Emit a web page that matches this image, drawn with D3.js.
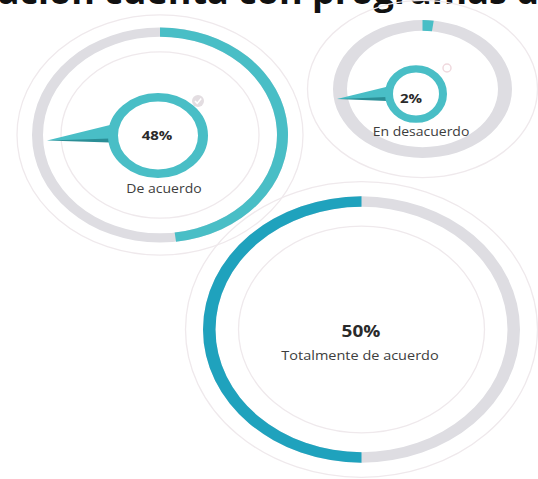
<!DOCTYPE html>
<html>
<head>
<meta charset="utf-8">
<script src="https://cdn.jsdelivr.net/npm/d3@7"></script>
<style>
  html, body { margin: 0; padding: 0; background: #ffffff; }
  svg { display: block; }
  text { font-family: "Open Sans", "Noto Sans", sans-serif; }
</style>
</head>
<body>
<svg id="chart" width="538" height="479"></svg>
<script>
// Survey answers and their shares (percent)
const categories = ["De acuerdo", "En desacuerdo", "Totalmente de acuerdo"];
const values = [48, 2, 50];
const valueLabels = ["48%", "2%", "50%"];
const titleLead = "Situación cuenta con ";
const titleTail = "programas de";

// Placement of each gauge (ellipse centre, ring radius, vertical squash, sweep direction)
const layout = [
  { cx: 160, cy: 135, r: 128, w: 11, ky: 0.84, dir: 1, faintIn: 99, faintOut: 143, color: "#49bec6",
    marker: { cx: 158, cy: 135.5, r: 50, w: 10, ky: 0.85, tip: 47 },
    badge: { x: 198, y: 101, r: 6, check: true },
    pct: { x: 157, y: 140, size: 15 }, lab: { x: 164, y: 193, size: 14 } },
  { cx: 422.5, cy: 89, r: 89.5, w: 14, ky: 0.77, dir: 1, faintIn: null, faintOut: 115, color: "#49bec6",
    marker: { cx: 416, cy: 94, r: 31, w: 8, ky: 0.93, tip: 337 },
    badge: { x: 447, y: 68, r: 4, check: false },
    pct: { x: 411, y: 103, size: 15 }, lab: { x: 421, y: 136, size: 14 } },
  { cx: 361.5, cy: 329.5, r: 158.5, w: 12.5, ky: 0.84, dir: -1, faintIn: 123, faintOut: 176, color: "#1fa2bd",
    marker: null, badge: null,
    pct: { x: 361, y: 337, size: 19 }, lab: { x: 360, y: 360, size: 14.5 } }
];

const svg = d3.select("#chart");
const angle = d3.scaleLinear().domain([0, 100]).range([0, 2 * Math.PI]);
const track = "#dedde2";
const faint = "#efe9ec";
const textSquash = 0.85;

// Title, running off the top edge; "programas" begins at x = 312
const titleSize = 36;
const probe = svg.append("text")
  .attr("font-size", titleSize).attr("font-weight", 700)
  .attr("xml:space", "preserve").style("white-space", "pre")
  .text(titleLead);
const leadWidth = probe.node().getComputedTextLength();
probe.remove();
svg.append("text")
  .attr("x", 312 - leadWidth).attr("y", 3.5)
  .attr("font-size", titleSize).attr("font-weight", 700)
  .attr("fill", "#111")
  .style("white-space", "pre")
  .text(titleLead + titleTail);

function label(x, y, size, weight, fill, str) {
  svg.append("text")
    .attr("transform", `translate(${x},${y}) scale(1,${textSquash})`)
    .attr("text-anchor", "middle")
    .attr("font-size", size).attr("font-weight", weight)
    .attr("fill", fill)
    .text(str);
}

categories.forEach((cat, i) => {
  const L = layout[i];
  const g = svg.append("g")
    .attr("transform", `translate(${L.cx},${L.cy}) scale(1,${L.ky})`);

  // faint guide circles
  [L.faintIn, L.faintOut].filter(r => r).forEach(r => {
    g.append("circle").attr("r", r)
      .attr("fill", "none").attr("stroke", faint)
      .attr("stroke-width", 1.3)
      .attr("vector-effect", "non-scaling-stroke");
  });

  const arc = d3.arc().innerRadius(L.r - L.w).outerRadius(L.r);
  // background track
  g.append("path")
    .attr("d", arc({ startAngle: 0, endAngle: 2 * Math.PI }))
    .attr("fill", track);
  // value arc
  g.append("path")
    .attr("d", arc({ startAngle: 0, endAngle: L.dir * angle(values[i]) }))
    .attr("fill", L.color);

  // centre marker ring with pointer
  if (L.marker) {
    const M = L.marker;
    const mg = svg.append("g");
    const yBase = M.cy + 5;
    const leftX = M.cx - M.r + 2;
    // pointer spike: light upper half and shaded lower half
    mg.append("path")
      .attr("d", `M${leftX},${M.cy - M.r * M.ky * 0.25} L${M.tip},${yBase} L${leftX},${yBase} Z`)
      .attr("fill", L.color);
    mg.append("path")
      .attr("d", `M${M.tip},${yBase} L${leftX + (M.tip - leftX) * 0.35},${yBase - 1.2} L${leftX},${yBase - 2} L${leftX},${yBase + 2} Z`)
      .attr("fill", "#2b8e96");
    const ring = mg.append("g")
      .attr("transform", `translate(${M.cx},${M.cy}) scale(1,${M.ky})`);
    ring.append("circle").attr("r", M.r - M.w / 2)
      .attr("fill", "#fff").attr("stroke", L.color)
      .attr("stroke-width", M.w);
  }

  if (L.badge) {
    const B = L.badge;
    if (B.check) {
      svg.append("circle").attr("cx", B.x).attr("cy", B.y).attr("r", B.r)
        .attr("fill", "#e3dde1");
      svg.append("path")
        .attr("d", `M${B.x - 3},${B.y} L${B.x - 0.8},${B.y + 2.4} L${B.x + 3.2},${B.y - 2.4}`)
        .attr("fill", "none").attr("stroke", "#fff").attr("stroke-width", 1.6);
    } else {
      svg.append("circle").attr("cx", B.x).attr("cy", B.y).attr("r", B.r)
        .attr("fill", "none").attr("stroke", "#f0d9de").attr("stroke-width", 1.5);
    }
  }

  label(L.pct.x, L.pct.y, L.pct.size, 700, "#2a2a2a", valueLabels[i]);
  label(L.lab.x, L.lab.y, L.lab.size, 400, "#3d3d3d", cat);
});
</script>
</body>
</html>
